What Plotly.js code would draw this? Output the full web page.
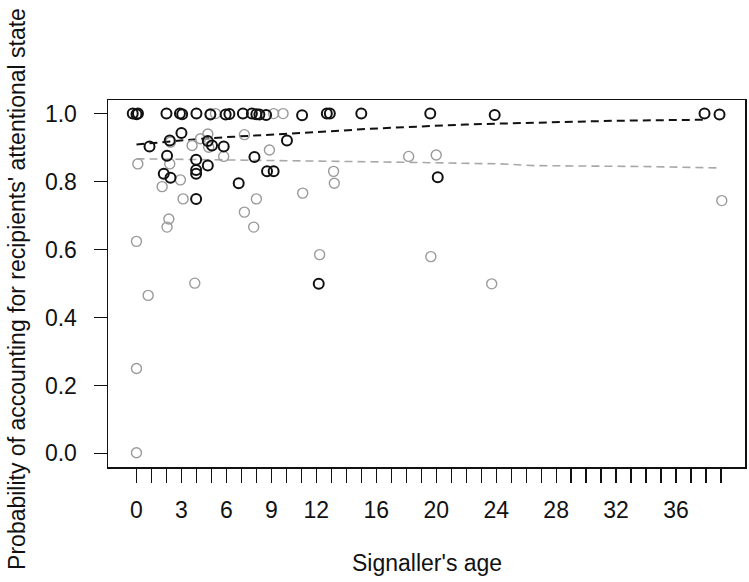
<!DOCTYPE html>
<html>
<head>
<meta charset="utf-8">
<script src="https://cdn.plot.ly/plotly-3.0.1.min.js"></script>
<style>html,body{margin:0;padding:0;background:#fff;}#chart{width:749px;height:582px;}</style>
</head>
<body>
<div id="chart"></div>
<script>
// Black group (observed)
var blackAge = [-0.25, 0.0, 0.1, 2.0, 2.9, 3.05, 4.0, 4.93, 5.95, 6.2, 7.1, 7.7, 8.0, 8.2, 8.65, 11.05, 12.7, 12.9, 15.0, 19.6, 23.9, 37.9, 38.9,
  0.87, 2.22, 3.0, 2.04, 1.82, 2.27, 3.98, 3.98, 3.98, 4.76, 3.98, 4.76, 5.04, 5.82, 6.82, 7.87, 8.71, 9.15, 10.04, 20.1, 12.16];
var blackProb = [1.0, 0.998, 1.0, 1.0, 1.0, 0.998, 1.0, 0.997, 0.997, 0.999, 1.0, 1.0, 0.998, 0.997, 0.996, 0.995, 1.0, 1.0, 1.0, 1.0, 0.996, 1.0, 0.997,
  0.903, 0.921, 0.943, 0.876, 0.823, 0.811, 0.864, 0.834, 0.823, 0.847, 0.749, 0.919, 0.906, 0.903, 0.795, 0.872, 0.830, 0.830, 0.921, 0.813, 0.499];
// Grey group (observed)
var greyAge = [0.09, 2.27, 2.22, 2.93, 1.71, 3.11, 3.71, 4.27, 4.76, 4.82, 5.82, 7.2, 8.87, 8.0, 7.2, 7.82, 11.09, 13.15, 13.2, 2.16, 2.04,
  0.0, 3.89, 12.22, 0.78, 19.64, 23.7, 39.05, 18.16, 20.0, 0.0, 0.0, 4.93, 5.27, 9.15, 9.78];
var greyProb = [0.852, 0.916, 0.852, 0.805, 0.785, 0.749, 0.906, 0.926, 0.940, 0.901, 0.874, 0.938, 0.893, 0.749, 0.710, 0.666, 0.766, 0.830, 0.795, 0.690, 0.666,
  0.624, 0.501, 0.585, 0.465, 0.579, 0.499, 0.744, 0.874, 0.878, 0.002, 0.25, 1.0, 1.0, 1.0, 1.0];
// Fitted curves
var blackFitAge = [0, 4.3, 6.5, 10, 13, 15.4, 18.9, 22, 26.5, 32, 37.9];
var blackFitProb = [0.909, 0.926, 0.932, 0.940, 0.948, 0.955, 0.963, 0.968, 0.973, 0.979, 0.982];
var greyFitAge = [0, 11, 17.6, 24.3, 26.5, 34.3, 39];
var greyFitProb = [0.867, 0.862, 0.857, 0.852, 0.847, 0.844, 0.840];
// Ticks
var xTickVals = [];
for (var i = 0; i <= 39; i++) xTickVals.push(i);
var xLabelShown = [0, 3, 6, 9, 12, 16, 20, 24, 28, 32, 36];
var xTickText = xTickVals.map(function (v) { return xLabelShown.indexOf(v) >= 0 ? String(v) : ''; });
var yTickVals = [0, 0.2, 0.4, 0.6, 0.8, 1.0];
var yTickText = ['0.0', '0.2', '0.4', '0.6', '0.8', '1.0'];

var FONT = 'Arial, "Liberation Sans", sans-serif';
var FS = 23;

var traces = [
  { x: greyFitAge, y: greyFitProb, mode: 'lines', type: 'scatter',
    line: { color: '#a8a8a8', width: 1.6, dash: '8px,5px' }, hoverinfo: 'skip' },
  { x: blackFitAge, y: blackFitProb, mode: 'lines', type: 'scatter',
    line: { color: '#111', width: 2, dash: '8px,5px' }, hoverinfo: 'skip' },
  { x: greyAge, y: greyProb, mode: 'markers', type: 'scatter',
    marker: { symbol: 'circle-open', size: 10, color: '#9a9a9a', line: { color: '#9a9a9a', width: 1.4 } } },
  { x: blackAge, y: blackProb, mode: 'markers', type: 'scatter',
    marker: { symbol: 'circle-open', size: 10, color: '#111', line: { color: '#111', width: 2 } } }
];

var layout = {
  width: 749, height: 582,
  margin: { l: 108, r: 4, t: 100, b: 115, pad: 0 },
  paper_bgcolor: '#fff', plot_bgcolor: '#fff',
  showlegend: false,
  font: { family: FONT, size: FS, color: '#111' },
  xaxis: {
    range: [-1.9, 40.6], tickmode: 'array', tickvals: xTickVals, ticktext: xTickText,
    ticks: 'outside', ticklen: 14, tickwidth: 1.3, tickcolor: '#111',
    showline: true, mirror: true, linecolor: '#111', linewidth: 1.5,
    showgrid: false, zeroline: false, ticklabelstandoff: 8,
    tickfont: { family: FONT, size: FS, color: '#111' }
  },
  yaxis: {
    range: [-0.04, 1.04], tickmode: 'array', tickvals: yTickVals, ticktext: yTickText,
    ticks: 'outside', ticklen: 13, tickwidth: 1.3, tickcolor: '#111',
    showline: true, mirror: true, linecolor: '#111', linewidth: 1.5,
    showgrid: false, zeroline: false, ticklabelstandoff: 12,
    tickfont: { family: FONT, size: FS, color: '#111' }
  },
  annotations: [
    { text: "Signaller's age", xref: 'paper', yref: 'paper', x: 0.5, y: -0.262,
      xanchor: 'center', yanchor: 'middle', showarrow: false,
      font: { family: FONT, size: FS, color: '#111' } },
    { text: "Probability of accounting for recipients' attentional state", xref: 'paper', yref: 'paper',
      x: -0.143, y: 0.485, xanchor: 'center', yanchor: 'middle', textangle: -90, showarrow: false,
      font: { family: FONT, size: FS, color: '#111' } }
  ]
};

Plotly.newPlot('chart', traces, layout, { staticPlot: true, displayModeBar: false });
</script>
</body>
</html>
